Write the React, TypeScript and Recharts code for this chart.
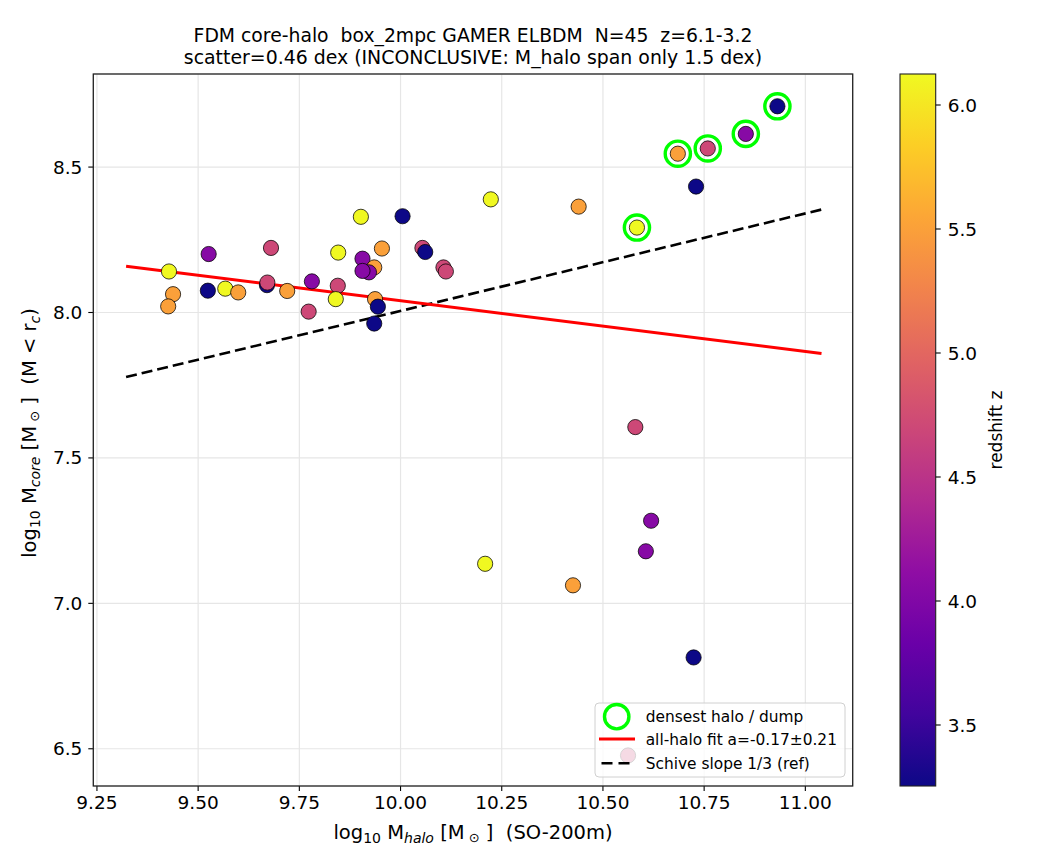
import React from 'react';
import { ScatterChart, Scatter, XAxis, YAxis, CartesianGrid } from 'recharts';

// ---- data ----
const haloMass = [
  9.428, 9.438, 9.426, 9.526, 9.524, 9.567, 9.599, 9.680, 9.670, 9.671,
  9.720, 9.773, 9.781, 9.902, 9.846, 9.845, 9.840, 9.906, 9.954, 9.935,
  9.922, 9.906, 9.937, 9.944, 9.935, 10.005, 10.054, 10.061, 10.106, 10.112,
  10.223, 10.440, 10.584, 10.730, 10.685, 10.759, 10.853, 10.931, 10.580, 10.619,
  10.606, 10.209, 10.426, 10.724, 10.562,
];
const coreMass = [
  8.141, 8.063, 8.021, 8.201, 8.075, 8.082, 8.069, 8.222, 8.094, 8.103,
  8.074, 8.003, 8.107, 8.329, 8.206, 8.092, 8.046, 8.185, 8.220, 8.155,
  8.138, 8.143, 8.046, 8.020, 7.962, 8.331, 8.222, 8.208, 8.155, 8.141,
  8.389, 8.364, 8.292, 8.433, 8.546, 8.564, 8.614, 8.709, 7.606, 7.284,
  7.179, 7.136, 7.062, 6.814, 6.477,
];
const redshift = [
  6.12, 5.5, 5.5, 4.05, 3.25, 6.12, 5.5, 4.7, 3.25, 4.7,
  5.5, 4.7, 4.05, 6.12, 6.12, 4.7, 6.12, 4.05, 5.5, 5.5,
  4.05, 4.05, 5.5, 3.25, 3.25, 3.25, 4.7, 3.25, 4.7, 4.7,
  6.12, 5.5, 6.12, 3.25, 5.5, 4.7, 4.05, 3.25, 4.7, 4.05,
  4.05, 6.12, 5.5, 3.25, 4.7,
];
const densest = [
  false, false, false, false, false, false, false, false, false, false,
  false, false, false, false, false, false, false, false, false, false,
  false, false, false, false, false, false, false, false, false, false,
  false, false, true, false, true, true, true, true, false, false,
  false, false, false, false, false,
];

const fitX = [9.322, 11.04];
const fitY = [8.159, 7.859];
const schiveY = [7.778, 8.354];

const xTicks = [9.25, 9.5, 9.75, 10.0, 10.25, 10.5, 10.75, 11.0];
const yTicks = [6.5, 7.0, 7.5, 8.0, 8.5];
const cbTicks = [3.5, 4.0, 4.5, 5.0, 5.5, 6.0];

const xDomain = [9.241, 11.117];
const yDomain = [6.372, 8.82];
const zMin = 3.254;
const zMax = 6.125;

// plasma colormap anchors
const plasmaStops = [
  '#0d0887', '#41049d', '#6a00a8', '#8f0da4', '#b12a90', '#cc4778',
  '#e16462', '#f2844b', '#fca636', '#fcce25', '#f0f921',
];

function hexToRgb(h: string) {
  return [parseInt(h.slice(1, 3), 16), parseInt(h.slice(3, 5), 16), parseInt(h.slice(5, 7), 16)];
}
function plasma(z: number) {
  let t = (z - zMin) / (zMax - zMin);
  t = Math.max(0, Math.min(1, t));
  const pos = t * (plasmaStops.length - 1);
  const i = Math.min(Math.floor(pos), plasmaStops.length - 2);
  const f = pos - i;
  const a = hexToRgb(plasmaStops[i]);
  const b = hexToRgb(plasmaStops[i + 1]);
  const c = a.map((v, k) => Math.round(v + (b[k] - v) * f));
  return `rgb(${c[0]},${c[1]},${c[2]})`;
}

const points = haloMass.map((x, i) => ({ x, y: coreMass[i], z: redshift[i] }));
const ringPoints = points.filter((_, i) => densest[i]);
const fitLine = fitX.map((x, i) => ({ x, y: fitY[i] }));
const schiveLine = fitX.map((x, i) => ({ x, y: schiveY[i] }));

const FONT = 'DejaVu Sans';
const W = 1048;
const H = 852;
const PL = 85.3;
const PT = 66;
const PW = 759.4;
const PH = 712;

const CB_X = 892;
const CB_W = 35.7;

const Dot = (props: any) => {
  const { cx, cy, payload } = props;
  if (cx == null || cy == null) return <g />;
  return <circle cx={cx} cy={cy} r={7.6} fill={plasma(payload.z)} stroke="#000" strokeWidth={0.75} />;
};
const Ring = (props: any) => {
  const { cx, cy } = props;
  if (cx == null || cy == null) return <g />;
  return <circle cx={cx} cy={cy} r={12.6} fill="none" stroke="#00ff00" strokeWidth={3.4} />;
};
const NoShape = () => <g />;

export default function App() {
  const cbY = (v: number) => PT + PH - ((v - zMin) / (zMax - zMin)) * PH;
  return (
    <div style={{ position: 'relative', width: W, height: H, background: '#fff' }}>
      <ScatterChart width={W} height={H} margin={{ top: PT, right: W - PL - PW, left: 15.3, bottom: 14 }}>
        <CartesianGrid stroke="#e6e6e6" strokeWidth={1.2} />
        <XAxis
          type="number"
          dataKey="x"
          domain={xDomain}
          ticks={xTicks}
          interval={0}
          allowDataOverflow
          height={60}
          axisLine={false}
          tickSize={5}
          tickMargin={5}
          tickLine={{ stroke: '#000', strokeWidth: 1.1 }}
          tickFormatter={(v: number) => v.toFixed(2)}
          tick={{ fontSize: 18.5, fill: '#000', fontFamily: FONT }}
        />
        <YAxis
          type="number"
          dataKey="y"
          domain={yDomain}
          ticks={yTicks}
          interval={0}
          allowDataOverflow
          width={70}
          axisLine={false}
          tickSize={5}
          tickMargin={6}
          tickLine={{ stroke: '#000', strokeWidth: 1.1 }}
          tickFormatter={(v: number) => v.toFixed(1)}
          tick={{ fontSize: 18.5, fill: '#000', fontFamily: FONT }}
        />
        <Scatter
          data={schiveLine}
          isAnimationActive={false}
          line={{ stroke: '#000', strokeWidth: 2.6, strokeDasharray: '11 5' }}
          shape={NoShape}
          legendType="none"
        />
        <Scatter
          data={fitLine}
          isAnimationActive={false}
          line={{ stroke: '#ff0000', strokeWidth: 3 }}
          shape={NoShape}
          legendType="none"
        />
        <Scatter data={points} isAnimationActive={false} shape={Dot} legendType="none" />
        <Scatter data={ringPoints} isAnimationActive={false} shape={Ring} legendType="none" />
      </ScatterChart>
      <svg
        width={W}
        height={H}
        style={{ position: 'absolute', left: 0, top: 0, pointerEvents: 'none' }}
        fontFamily={FONT}
      >
        <defs>
          <linearGradient id="plasmaGrad" x1="0" y1="1" x2="0" y2="0">
            {plasmaStops.map((c, i) => (
              <stop key={i} offset={`${(i / (plasmaStops.length - 1)) * 100}%`} stopColor={c} />
            ))}
          </linearGradient>
        </defs>
        {/* axes frame */}
        <rect x={PL} y={PT} width={PW} height={PH} fill="none" stroke="#222" strokeWidth={1.3} />
        {/* title */}
        <text x={PL + PW / 2} y={33.7} textAnchor="middle" fontSize={18.8} fill="#000" style={{ whiteSpace: 'pre' }}>
          {'FDM core-halo  box_2mpc GAMER ELBDM  N=45  z=6.1-3.2'}
        </text>
        <text x={PL + PW / 2} y={55.7} textAnchor="middle" fontSize={18.9} fill="#000" style={{ whiteSpace: 'pre' }}>
          {'scatter=0.46 dex (INCONCLUSIVE: M_halo span only 1.5 dex)'}
        </text>
        {/* x label */}
        <text x={PL + PW / 2} y={831} textAnchor="middle" fontSize={19.5} fill="#000" style={{ whiteSpace: 'pre' }}>
          log
          <tspan fontSize={14} dy={4}>10</tspan>
          <tspan dy={-4}> M</tspan>
          <tspan fontSize={14} fontStyle="italic" dy={4}>halo</tspan>
          <tspan dy={-4}> [M</tspan>
          <tspan fontSize={13} dy={3}> ⊙</tspan>
          <tspan dy={-3}> ]  (SO-200m)</tspan>
        </text>
        {/* y label */}
        <text
          x={28}
          y={425}
          transform="rotate(-90, 28, 425)"
          textAnchor="middle"
          fontSize={19.5}
          fill="#000"
          style={{ whiteSpace: 'pre' }}
        >
          log
          <tspan fontSize={14} dy={4}>10</tspan>
          <tspan dy={-4}> M</tspan>
          <tspan fontSize={14} fontStyle="italic" dy={4}>core</tspan>
          <tspan dy={-4}> [M</tspan>
          <tspan fontSize={13} dy={3}> ⊙</tspan>
          <tspan dy={-3}> ]  (M &lt; r</tspan>
          <tspan fontSize={14} fontStyle="italic" dy={4}>c</tspan>
          <tspan dy={-4}>)</tspan>
        </text>
        {/* legend */}
        <g>
          <rect x={587} y={695} width={250} height={74} rx={4} fill="#fff" fillOpacity={0.8} stroke="#d0d0d0" strokeWidth={1} />
          <circle cx={608.7} cy={708.7} r={12.2} fill="none" stroke="#00ff00" strokeWidth={3.4} />
          <line x1={591} y1={731} x2={627} y2={731} stroke="#ff0000" strokeWidth={3} />
          <line x1={593.5} y1={755.3} x2={621.5} y2={755.3} stroke="#000" strokeWidth={2.6} strokeDasharray="11 6" />
          <text x={637.7} y={714} fontSize={15.4} fill="#000">densest halo / dump</text>
          <text x={637.7} y={736.5} fontSize={15.4} fill="#000">all-halo fit a=-0.17±0.21</text>
          <text x={637.7} y={760.5} fontSize={15.4} fill="#000">Schive slope 1/3 (ref)</text>
        </g>
        {/* colorbar */}
        <rect x={CB_X} y={PT} width={CB_W} height={PH} fill="url(#plasmaGrad)" stroke="#222" strokeWidth={1.1} />
        {cbTicks.map((v) => (
          <g key={v}>
            <line x1={CB_X + CB_W} x2={CB_X + CB_W + 5} y1={cbY(v)} y2={cbY(v)} stroke="#000" strokeWidth={1.1} />
            <text x={CB_X + CB_W + 12} y={cbY(v) + 6.7} fontSize={18.5} fill="#000">
              {v.toFixed(1)}
            </text>
          </g>
        ))}
        <text x={994} y={422} transform="rotate(-90, 994, 422)" textAnchor="middle" fontSize={17} fill="#000">
          redshift z
        </text>
      </svg>
    </div>
  );
}
